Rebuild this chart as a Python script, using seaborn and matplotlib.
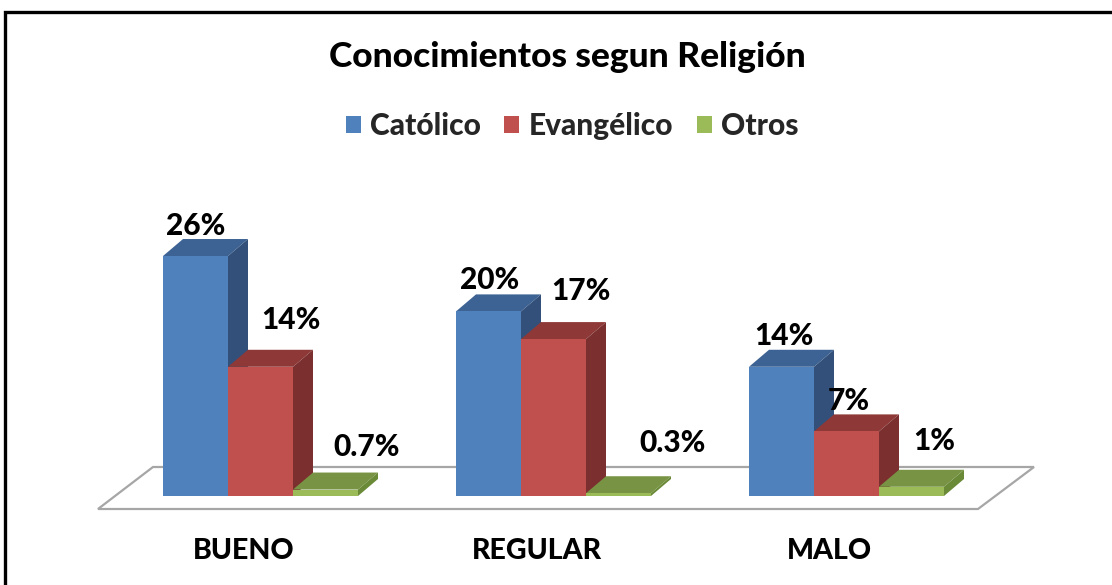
import matplotlib
matplotlib.use("Agg")
import pandas as pd
import matplotlib.pyplot as plt
from matplotlib.patches import Polygon, Rectangle
import seaborn as sns

# ---------- DATOS ----------
categorias = ["BUENO", "REGULAR", "MALO"]
religiones = ["Católico", "Evangélico", "Otros"]
catolico = [26, 20, 14]
evangelico = [14, 17, 7]
otros = [0.7, 0.3, 1]

# ---------- ESTILO ----------
W, H = 1112, 585
PX_X = 293.0        # px por categoria
PX_Y = 9.23         # px por punto porcentual
X0_PX = 260.5       # centro del primer grupo (px)
BASE_PX = 496.0     # linea base (px desde arriba)
DEPTH = (20, 17)    # profundidad 3D en px

FRONT = ["#4F81BD", "#C0504D", "#9BBB59"]
TOP = ["#3D6394", "#8E3937", "#779343"]
SIDE = ["#33507A", "#7B2F2E", "#6B8A38"]

# desplazamiento de etiquetas (px) respecto al centro superior de la cara frontal
LABEL_DX = [[0, 1, 2], [30, 27, 2], [41, 54, 23]]
LABEL_DY = [[30, 31, 31], [47, 48, 30], [43, 50, 46]]

FONT = ["Lato", "DejaVu Sans"]
WEIGHT = 900

df = pd.DataFrame({
    "categoria": categorias * 3,
    "religion": [r for r in religiones for _ in categorias],
    "valor": catolico + evangelico + otros,
})

sns.set_theme(style="white")
plt.rcParams["font.family"] = FONT

fig = plt.figure(figsize=(W / 100, H / 100), dpi=100)
ax = fig.add_axes([0, 0, 1, 1])

sns.barplot(data=df, x="categoria", y="valor", hue="religion",
            palette=FRONT, width=195 / PX_X, saturation=1,
            linewidth=0, ax=ax)

ax.set_xlim(-X0_PX / PX_X, (W - X0_PX) / PX_X)
ax.set_ylim(-(H - BASE_PX) / PX_Y, BASE_PX / PX_Y)
ax.axis("off")

dx = DEPTH[0] / PX_X
dy = DEPTH[1] / PX_Y

# piso
fl = [(98, 509), (978, 509), (1034, 467), (153, 467)]
floor = Polygon([((px - X0_PX) / PX_X, (BASE_PX - py) / PX_Y) for px, py in fl],
                closed=True, facecolor="white", edgecolor="#A6A6A6",
                linewidth=1.6, zorder=1)
ax.add_patch(floor)

# caras 3D + etiquetas
for j, cont in enumerate(ax.containers):
    for i, bar in enumerate(cont):
        x, w, h = bar.get_x(), bar.get_width(), bar.get_height()
        k = i * 3 + j
        bar.set_zorder(3 + 2 * k)
        top = Polygon([(x, h), (x + w, h), (x + w + dx, h + dy), (x + dx, h + dy)],
                      closed=True, facecolor=TOP[j], edgecolor="none", zorder=2 + 2 * k)
        side = Polygon([(x + w, 0), (x + w + dx, dy), (x + w + dx, h + dy), (x + w, h)],
                       closed=True, facecolor=SIDE[j], edgecolor="none", zorder=2 + 2 * k)
        ax.add_patch(top)
        ax.add_patch(side)
        ax.annotate(f"{h:g}%", (x + w / 2, h), xytext=(LABEL_DX[j][i], LABEL_DY[j][i]),
                    textcoords="offset pixels", ha="center", va="center",
                    fontsize=21.5, fontweight=WEIGHT, color="black", zorder=100)

# etiquetas de categoria
for i, c in enumerate(categorias):
    ax.text(i - 17 / PX_X, -(551 - BASE_PX) / PX_Y, c, ha="center", va="center",
            fontsize=20.5, fontweight=WEIGHT, color="black")

# leyenda
handles, labels = ax.get_legend_handles_labels()
if ax.get_legend() is not None:
    ax.get_legend().remove()
fig.legend(handles, labels, loc="center", bbox_to_anchor=(572 / W, 1 - 126 / H),
           ncol=3, frameon=False, handlelength=0.5, handleheight=0.5,
           handletextpad=0.3, columnspacing=0.8,
           prop={"family": FONT, "weight": WEIGHT, "size": 21.5})

fig.text(567 / W, 1 - 57 / H, "Conocimientos segun Religión", ha="center", va="center",
         fontsize=25.5, fontweight=WEIGHT, color="black")

# marco
fig.patches.append(Rectangle((5 / W, -0.05), 1.1, 1.05 - 12 / H, transform=fig.transFigure,
                             fill=False, edgecolor="black", linewidth=2.4))

fig.savefig("out.png", dpi=100)
